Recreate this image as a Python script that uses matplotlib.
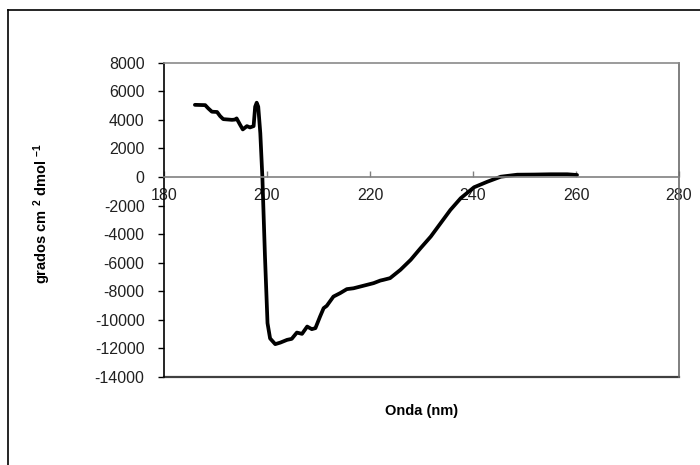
import matplotlib
matplotlib.use("Agg")
import matplotlib.pyplot as plt
from matplotlib.lines import Line2D

plt.rcParams['font.family'] = ['Liberation Sans', 'DejaVu Sans']
plt.rcParams['mathtext.fontset'] = 'custom'
plt.rcParams['mathtext.rm'] = 'Liberation Sans:bold'
plt.rcParams['mathtext.default'] = 'rm'

# Data (wavelength nm, ellipticity)
wavelength = [186.0, 188.0, 188.6, 189.3, 190.3, 190.9, 191.5, 193.2, 193.8, 194.1,
              194.8, 195.3, 196.1, 196.7, 197.4, 197.7, 198.0, 198.3, 198.7, 199.1,
              199.6, 200.1, 200.6, 201.6, 202.6, 203.9, 204.8, 205.8, 206.8, 207.8,
              208.7, 209.4, 210.3, 211.0, 211.6, 212.9, 214.2, 215.5, 216.8, 218.1,
              219.4, 220.7, 222.0, 222.6, 223.9, 225.9, 227.9, 229.8, 231.8, 233.7,
              235.6, 237.6, 240.2, 242.8, 245.4, 248.6, 251.9, 255.1, 258.3, 260.2]
signal = [5050, 5030, 4800, 4570, 4550, 4260, 4050, 4000, 4020, 4100,
          3640, 3330, 3560, 3470, 3560, 4920, 5200, 4920, 3070, 0,
          -5500, -10230, -11300, -11700, -11590, -11400, -11330, -10890, -10980, -10470,
          -10650, -10580, -9770, -9180, -9020, -8370, -8130, -7850, -7790, -7670,
          -7550, -7430, -7250, -7200, -7080, -6500, -5800, -4990, -4170, -3240,
          -2310, -1490, -720, -330, 20, 160, 170, 190, 190, 140]

xticks = [180, 200, 220, 240, 260, 280]
yticks = [8000, 6000, 4000, 2000, 0, -2000, -4000, -6000, -8000, -10000, -12000, -14000]
xlabel = "Onda (nm)"
ylabel = r"grados cm $^{2}$ dmol $^{-1}$"

W, H = 700, 465
fig = plt.figure(figsize=(7.0, 4.65), dpi=100)
L, R, T, B = 164, 679, 62.7, 377
ax = fig.add_axes([L / W, 1 - B / H, (R - L) / W, (B - T) / H])

ax.plot(wavelength, signal, color='black', lw=2.7, solid_capstyle='round', solid_joinstyle='round')
ax.set_xlim(180, 280)
ax.set_ylim(-14000, 8000)
ax.set_xticks(xticks)
ax.set_yticks(yticks)
ax.set_yticklabels([str(v) for v in yticks])

ax.spines['bottom'].set_position(('data', 0))
ax.spines['bottom'].set_color('#808080')
ax.spines['left'].set_color('black')
ax.spines['top'].set_color('#8a8a8a')
ax.spines['right'].set_color('#6a6a6a')
for s in ax.spines.values():
    s.set_linewidth(1.2)
ax.axhline(-14000, color='#404040', lw=1.6, clip_on=False)

ax.tick_params(axis='x', direction='in', length=4, width=1, color='#808080',
               labelsize=11.5, pad=8, labelcolor='#202020')
ax.tick_params(axis='y', direction='out', length=4, width=1, color='black',
               labelsize=11.5, pad=10, labelcolor='#202020')

ax.set_xlabel(xlabel, fontsize=10.5, fontweight='bold', va='center')
ax.xaxis.set_label_coords(0.5, (B - 411) / (B - T))
ax.set_ylabel(ylabel, fontsize=10.5, fontweight='bold', va='center')
ax.yaxis.set_label_coords((42 - L) / (R - L), (B - 214) / (B - T))

# outer frame (partially clipped by the image)
fig.add_artist(Line2D([8 / W, 8 / W], [0, 1 - 10 / H], transform=fig.transFigure, color='black', lw=1.2))
fig.add_artist(Line2D([8 / W, 1], [1 - 10 / H, 1 - 10 / H], transform=fig.transFigure, color='black', lw=1.2))

fig.savefig("out.png", dpi=100)
